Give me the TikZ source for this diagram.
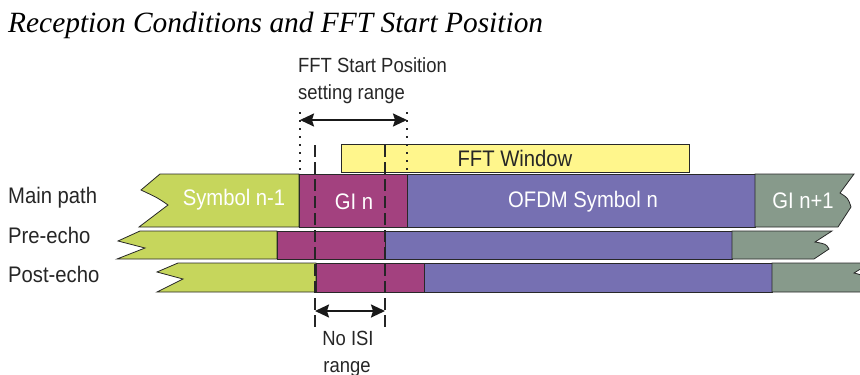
\documentclass[tikz,border=0pt]{standalone}
\usepackage{fontspec}
\setmainfont{Liberation Serif}
\newfontfamily\cond[FakeStretch=0.9]{Liberation Sans}
\usetikzlibrary{arrows.meta}
\definecolor{cgreen}{RGB}{198,214,92}
\definecolor{cpurple}{RGB}{163,65,127}
\definecolor{cblue}{RGB}{118,112,178}
\definecolor{cgray}{RGB}{135,154,139}
\definecolor{cyellow}{RGB}{255,246,140}
\definecolor{cedge}{RGB}{40,40,40}
\tikzset{
  seg/.style={draw=cedge, line width=0.8pt, line join=miter},
  blocktext/.style={font=\cond\fontsize{22.5}{26}\selectfont, text=white, anchor=base, inner sep=0pt},
  rowlabel/.style={font=\cond\fontsize{22.5}{26}\selectfont, text=black!85, anchor=base west, inner sep=0pt},
  annot/.style={font=\cond\fontsize{20.5}{24}\selectfont, text=black!85, inner sep=0pt},
  dashline/.style={draw=black!85, line width=2pt, dash pattern=on 12pt off 5pt},
  dotline/.style={draw=black!85, line width=2pt, dash pattern=on 2pt off 6pt},
  rangearrow/.style={draw=black!90, line width=2pt, {Stealth[length=14pt,width=13pt,inset=2pt]}-{Stealth[length=14pt,width=13pt,inset=2pt]}}
}
\begin{document}
\begin{tikzpicture}[x=1pt,y=-1pt]
\useasboundingbox (0,0) rectangle (860,375);
% title
\node[anchor=base west, inner sep=0pt, font=\fontsize{29.4}{34}\selectfont\itshape] (title) at (8,32) {Reception Conditions and FFT Start Position};
% row labels
\node[rowlabel] (lmain) at (8,203) {Main path};
\node[rowlabel] (lpre) at (8,243) {Pre-echo};
\node[rowlabel] (lpost) at (8,282) {Post-echo};
% FFT window
\draw[seg, fill=cyellow] (341,144) rectangle (689,172);
\node[blocktext, text=black!85] (fftw) at (515,166) {FFT Window};
% main path row
\draw[seg, fill=cgreen] (160,174) -- (299,174) -- (299,227) -- (139,227) -- (168,205) .. controls (158,198) .. (141,190) -- cycle;
\draw[seg, fill=cpurple] (299,174) rectangle (407,227);
\draw[seg, fill=cblue] (407,174) rectangle (755,227);
\draw[seg, fill=cgray] (755,174) -- (854,174) -- (840,193) .. controls (848,198) .. (851,207) -- (838,227) -- (755,227) -- cycle;
\node[blocktext] (sym1) at (234,205) {Symbol n-1};
\node[blocktext] (gin) at (354,209) {GI n};
\node[blocktext] (ofdm) at (583,207) {OFDM Symbol n};
\node[blocktext] (gin1) at (803,208) {GI n+1};
% pre-echo row
\draw[seg, fill=cgreen] (140,231) -- (277,231) -- (277,259) -- (117,259) -- (145,248) .. controls (132,244) .. (118,241) -- cycle;
\draw[seg, fill=cpurple] (277,231) rectangle (385,259);
\draw[seg, fill=cblue] (385,231) rectangle (732,259);
\draw[seg, fill=cgray] (732,231) -- (832,231) -- (815,242) .. controls (826,244) .. (829,249) -- (814,259) -- (732,259) -- cycle;
% post-echo row
\begin{scope}
\clip (0,0) rectangle (860,375);
\draw[seg, fill=cgreen] (178,263) -- (316,263) -- (316,292) -- (157,292) -- (183,279) .. controls (170,275) .. (157,272) -- cycle;
\draw[seg, fill=cpurple] (316,263) rectangle (424,292);
\draw[seg, fill=cblue] (424,263) rectangle (772,292);
\draw[seg, fill=cgray] (772,263) -- (870,263) -- (854,273) .. controls (862,275) .. (866,280) -- (866,292) -- (772,292) -- cycle;
\end{scope}
% dotted lines
\coordinate (dotLtop) at (300,112);
\coordinate (dotLbot) at (300,172);
\coordinate (dotRtop) at (407,112);
\coordinate (dotRbot) at (407,172);
\draw[dotline] (dotLtop) -- (dotLbot);
\draw[dotline] (dotRtop) -- (dotRbot);
% dashed lines
\coordinate (dashLtop) at (315,145);
\coordinate (dashLbot) at (315,328);
\coordinate (dashRtop) at (385,145);
\coordinate (dashRbot) at (385,328);
\draw[dashline] (dashLtop) -- (dashLbot);
\draw[dashline] (dashRtop) -- (dashRbot);
% arrows
\coordinate (aL) at (300,120);
\coordinate (aR) at (407,120);
\draw[rangearrow] (aL) -- (aR);
\coordinate (bL) at (315,311);
\coordinate (bR) at (385,311);
\draw[rangearrow] (bL) -- (bR);
% annotations
\node[annot, anchor=base west] (fsp1) at (298,72) {FFT Start Position};
\node[annot, anchor=base west] (fsp2) at (298,99) {setting range};
\node[annot, anchor=base] (nisi1) at (348,345) {No ISI};
\node[annot, anchor=base] (nisi2) at (347,372) {range};
\end{tikzpicture}
\end{document}
